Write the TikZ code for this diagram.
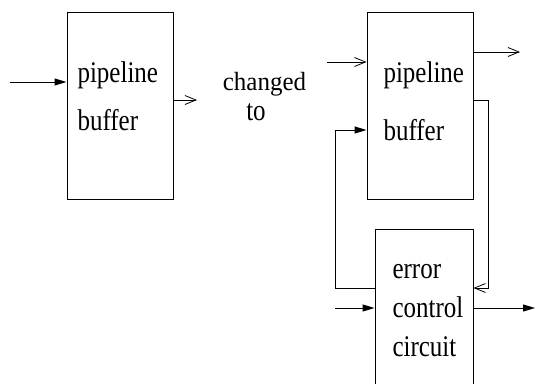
\documentclass[tikz,border=0pt]{standalone}
\usepackage{fontspec}
\setmainfont{Liberation Serif}
\usetikzlibrary{arrows.meta,calc}
\newcommand{\tall}[1]{\scalebox{1}[1.2]{#1}}
\begin{document}
\begin{tikzpicture}[x=1pt,y=-1pt,line width=1pt,
  blk/.style={draw,rectangle,inner sep=0pt},
  lbl/.style={anchor=base west,inner sep=0pt,font=\fontsize{25}{30}\selectfont},
  mid/.style={anchor=base,inner sep=0pt,font=\fontsize{25}{30}\selectfont},
  solidtip/.style={-{Triangle[length=12pt,width=7pt]}},
  opentip/.style={-{Straight Barb[length=11pt,width=9pt,line width=0.8pt]}}]
  \clip (0,0) rectangle (535,383);
  % blocks
  \node[blk,minimum width=106pt,minimum height=187pt] (lbuf) at (120,105.5) {};
  \node[blk,minimum width=106pt,minimum height=187pt] (rbuf) at (420,105.5) {};
  \node[blk,minimum width=98pt,minimum height=180pt] (ecc) at (424,319) {};
  % labels
  \node[lbl] (lp) at (77,82) {\tall{pipeline}};
  \node[lbl] (lb) at (77,130) {\tall{buffer}};
  \node[lbl] (rp) at (383,82) {\tall{pipeline}};
  \node[lbl] (rb) at (383,140) {\tall{buffer}};
  \node[lbl] (ee) at (392,278) {\tall{error}};
  \node[lbl] (ec) at (392,317) {\tall{control}};
  \node[lbl] (ei) at (392,356) {\tall{circuit}};
  \node[mid] (chg) at (264.5,90) {\scalebox{1}[1.05]{changed}};
  \node[mid] (to) at (256,120) {\tall{to}};
  % connector ends
  \coordinate (lin) at (10,82);
  \coordinate (lout) at (197,100);
  \coordinate (rin) at (327,62);
  \coordinate (rout) at (520,52);
  \coordinate (fbx) at (488,100);
  \coordinate (bkx) at (335,288);
  \coordinate (ein) at (335,308);
  \coordinate (eout) at (535,308);
  % connectors
  \draw[solidtip] (lin) -- (lin -| lbuf.west);
  \draw[opentip] (lout -| lbuf.east) -- (lout);
  \draw[opentip] (rin) -- (rin -| rbuf.west);
  \draw[opentip] (rout -| rbuf.east) -- (rout);
  \draw[opentip] (fbx -| rbuf.east) -- (fbx) |- (bkx -| ecc.east);
  \draw[solidtip] (bkx -| ecc.west) -- (bkx) |- (rbuf.west |- 0,130);
  \draw[solidtip] (ein) -- (ein -| ecc.west);
  \draw[solidtip] (ein -| ecc.east) -- (eout);
\end{tikzpicture}
\end{document}
